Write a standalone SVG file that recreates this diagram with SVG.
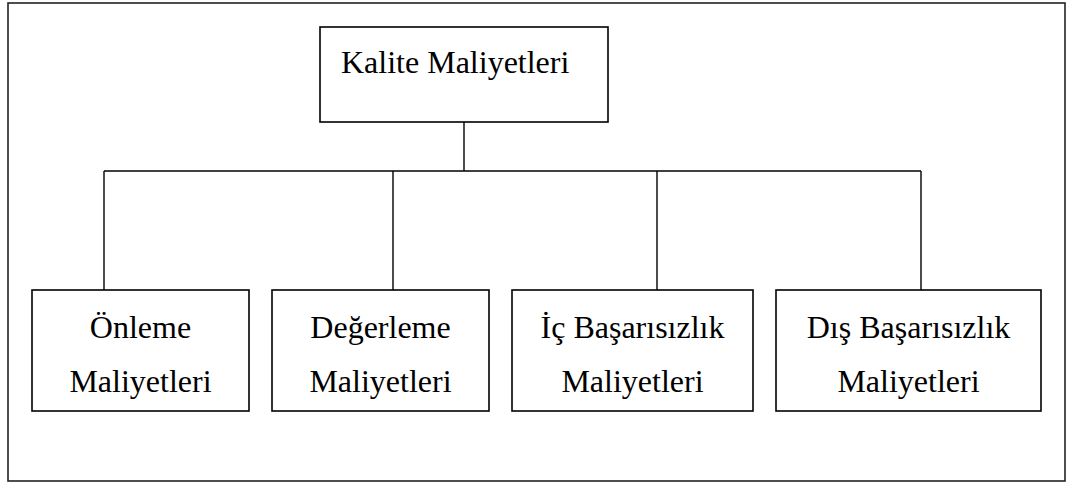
<svg xmlns="http://www.w3.org/2000/svg" width="1066" height="483" viewBox="0 0 1066 483">
  <style>
    .box { fill: #ffffff; stroke: #000000; stroke-width: 1.6; }
    .frame { fill: #ffffff; stroke: #222222; stroke-width: 1.6; }
    .wire { fill: none; stroke: #000000; stroke-width: 1.4; }
    .label { font-family: "Liberation Serif", "Times New Roman", serif; font-size: 32px; fill: #000000; text-anchor: middle; }
  </style>
  <rect class="frame" x="8" y="3" width="1057" height="478"/>

  <g id="connectors">
    <line class="wire" x1="464" y1="122" x2="464" y2="171"/>
    <line class="wire" x1="104" y1="171" x2="921" y2="171"/>
    <line class="wire" x1="104" y1="171" x2="104" y2="290"/>
    <line class="wire" x1="393" y1="171" x2="393" y2="290"/>
    <line class="wire" x1="657" y1="171" x2="657" y2="290"/>
    <line class="wire" x1="921" y1="171" x2="921" y2="290"/>
  </g>

  <g id="kalite-maliyetleri">
    <rect class="box" x="320" y="27" width="288" height="95"/>
    <text class="label" x="341" y="73" style="text-anchor:start">Kalite Maliyetleri</text>
  </g>

  <g id="onleme-maliyetleri">
    <rect class="box" x="32" y="290" width="217" height="121"/>
    <text class="label" x="140.5" y="338">Önleme</text>
    <text class="label" x="140.5" y="392">Maliyetleri</text>
  </g>

  <g id="degerleme-maliyetleri">
    <rect class="box" x="272" y="290" width="217" height="121"/>
    <text class="label" x="380.5" y="338">Değerleme</text>
    <text class="label" x="380.5" y="392">Maliyetleri</text>
  </g>

  <g id="ic-basarisizlik-maliyetleri">
    <rect class="box" x="512" y="290" width="241" height="121"/>
    <text class="label" x="632.5" y="338">İç Başarısızlık</text>
    <text class="label" x="632.5" y="392">Maliyetleri</text>
  </g>

  <g id="dis-basarisizlik-maliyetleri">
    <rect class="box" x="776" y="290" width="265" height="121"/>
    <text class="label" x="908.5" y="338">Dış Başarısızlık</text>
    <text class="label" x="908.5" y="392">Maliyetleri</text>
  </g>
</svg>
